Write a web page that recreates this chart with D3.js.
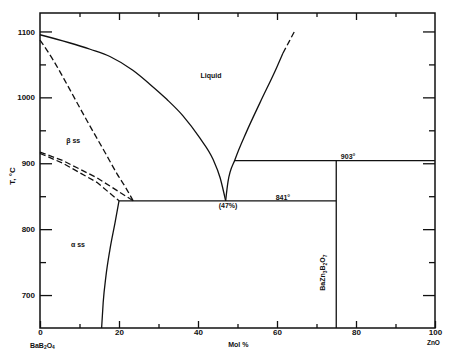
<!DOCTYPE html>
<html><head><meta charset="utf-8">
<script src="https://cdn.jsdelivr.net/npm/d3@7"></script>
<style>
body{margin:0;background:#fff;}
svg text{font-family:"Liberation Sans Narrow","Liberation Sans",Arial,sans-serif;font-weight:bold;fill:#111;}
</style></head>
<body><svg id="c" width="450" height="356"></svg>
<script>
// ---- data (mol % ZnO, temperature °C) ----
const liquidusLeft = [[0,1095],[12.7,1073],[17.7,1062],[23.5,1041],[27.8,1020],[32.1,997],[36.2,972],[40.5,938],[43.8,906],[45.6,878],[47,843]];
const liquidusRight = [[47,843],[47.6,872],[49.4,906],[52.3,948],[55.7,992],[59.9,1045],[61.5,1067]];
const liquidusRightDashed = [[61.5,1067],[63.1,1085],[64.6,1102]];
const betaBoundaryDashed = [[0,1087],[3.4,1056],[6.8,1020],[10.1,984],[12.7,956],[16.5,916],[19.5,884],[21.8,862],[23.6,843]];
const solidusUpperDashed = [[0,917],[5.8,904],[14.4,878],[23.6,843]];
const solidusLowerDashed = [[0,915],[5.8,900],[14.4,871],[20,843]];
const alphaSolvus = [[15.6,650],[16,689],[16.7,729],[17.7,769],[19,810],[20,843]];
const eutecticLine = [[20,843],[75,843]];
const peritecticLine = [[49.3,904],[100,904]];
const compoundLine = [[75,904],[75,650]];
const xMajorTicks = [0,20,40,60,80,100];
const xMinorTicks = [10,30,50,70,90];
const yMajorTicks = [700,800,900,1000,1100];
const yMinorTicks = [750,850,950,1050];

const svg = d3.select("#c");
const x = d3.scaleLinear().domain([0,100]).range([40,435]);
const y = d3.scaleLinear().domain([650,1128]).range([328,13]);
const ink = "#111";

// axes
function styleAxis(g){ g.select(".domain").remove(); g.selectAll("line").attr("stroke",ink).attr("stroke-width",1.3); g.selectAll("text").attr("font-size",8).attr("fill",ink); }
svg.append("g").attr("transform",`translate(40,0)`).call(d3.axisLeft(y).tickValues(yMajorTicks).tickSize(-12).tickPadding(5).tickFormat(d3.format("d"))).call(styleAxis);
svg.append("g").attr("transform",`translate(40,0)`).call(d3.axisLeft(y).tickValues(yMinorTicks).tickSize(-6).tickFormat("")).call(styleAxis);
svg.append("g").attr("transform",`translate(435,0)`).call(d3.axisRight(y).tickValues(yMajorTicks).tickSize(-12).tickFormat("")).call(styleAxis);
svg.append("g").attr("transform",`translate(435,0)`).call(d3.axisRight(y).tickValues(yMinorTicks).tickSize(-6).tickFormat("")).call(styleAxis);
svg.append("g").attr("transform",`translate(0,328)`).call(d3.axisBottom(x).tickValues(xMajorTicks).tickSize(-7).tickPadding(1).tickFormat(d3.format("d"))).call(styleAxis);
svg.append("g").attr("transform",`translate(0,328)`).call(d3.axisBottom(x).tickValues(xMinorTicks).tickSize(-4).tickFormat("")).call(styleAxis);
svg.append("g").attr("transform",`translate(0,13)`).call(d3.axisTop(x).tickValues(xMajorTicks.slice(1,-1)).tickSize(-7).tickFormat("")).call(styleAxis);
svg.append("g").attr("transform",`translate(0,13)`).call(d3.axisTop(x).tickValues(xMinorTicks).tickSize(-4).tickFormat("")).call(styleAxis);

// frame
svg.append("rect").attr("x",x(0)).attr("y",y(1128)).attr("width",x(100)-x(0)).attr("height",y(650)-y(1128))
  .attr("fill","none").attr("stroke",ink).attr("stroke-width",1.5);

// curves
const curveX = d3.line().x(d=>x(d[0])).y(d=>y(d[1])).curve(d3.curveMonotoneX);
const straight = d3.line().x(d=>x(d[0])).y(d=>y(d[1]));
function draw(data, gen, dashed){
  svg.append("path").attr("d",gen(data)).attr("fill","none").attr("stroke",ink).attr("stroke-width",1.3)
    .attr("stroke-dasharray",dashed?"6,3":null);
}
draw(liquidusLeft,curveX,false);
draw(liquidusRight,curveX,false);
draw(liquidusRightDashed,straight,true);
draw(betaBoundaryDashed,curveX,true);
draw(solidusUpperDashed,straight,true);
draw(solidusLowerDashed,straight,true);
draw(alphaSolvus,curveX,false);
draw(eutecticLine,straight,false);
draw(peritecticLine,straight,false);
draw(compoundLine,straight,false);

// labels: parts = [[text, isSub], ...]
function label(parts,px,py,size,rot){
  const t = svg.append("text").attr("text-anchor","middle").attr("dominant-baseline","central").attr("font-size",size)
    .attr("transform",`translate(${px},${py})`+(rot?` rotate(${rot})`:""));
  let shifted = false;
  (typeof parts==="string"?[[parts,false]]:parts).forEach(p=>{
    const sp = t.append("tspan").text(p[0]).attr("font-size",p[1]?size*0.7:size);
    if(p[1] && !shifted){ sp.attr("dy",size*0.3); shifted=true; }
    else if(!p[1] && shifted){ sp.attr("dy",-size*0.3); shifted=false; }
  });
  return t;
}
label("Liquid",x(43.3),y(1034),7);
label("β ss",x(8.4),y(936),7);
label("α ss",x(9.6),y(777),7);
label("(47%)",x(47.6),y(836),7);
label("841°",x(61.5),y(849),7);
label("903°",x(78),y(911),7);
label([["BaZn",false],["3",true],["B",false],["2",true],["O",false],["7",true]],x(71.5),y(734),7,-90);
label("Mol %",x(50.2),344,7);
label("T, °C",12,176,8,-90);
label([["BaB",false],["2",true],["O",false],["4",true]],x(0.6),345,7);
label("ZnO",x(99.6),341.5,6.5);
</script></body></html>
